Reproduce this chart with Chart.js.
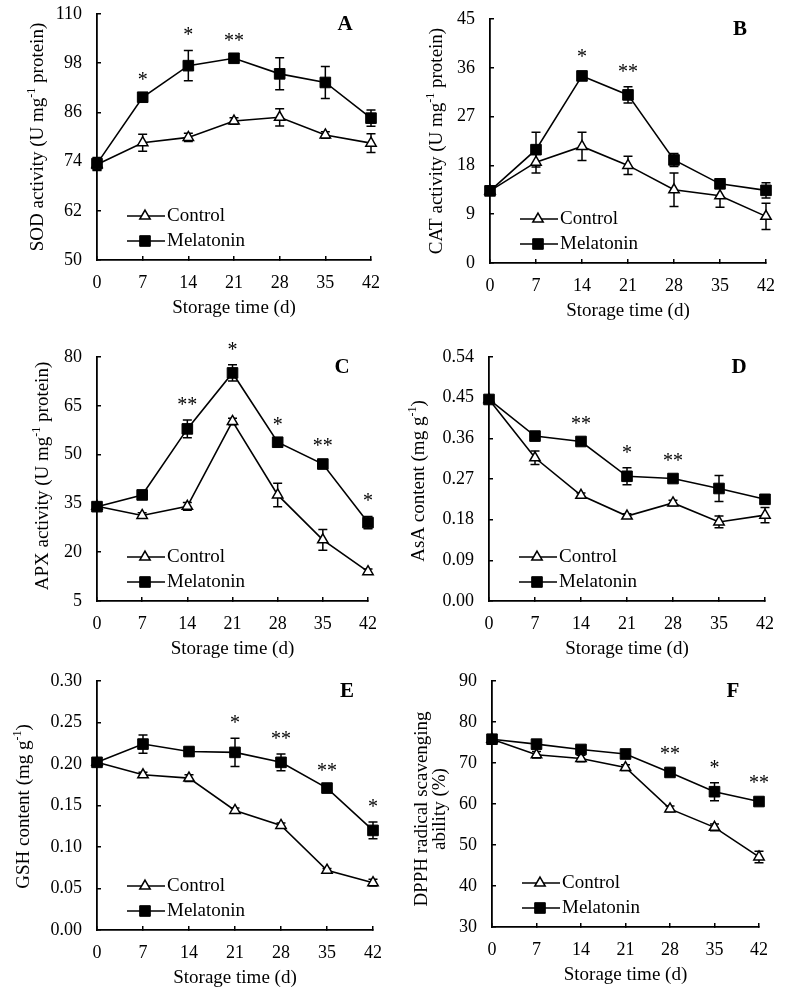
<!DOCTYPE html>
<html>
<head>
<meta charset="utf-8">
<script src="https://cdn.jsdelivr.net/npm/chart.js@4.4.1/dist/chart.umd.min.js"></script>
<style>
html,body{margin:0;padding:0;background:#fff;}
#wrap{position:relative;width:787px;height:990px;overflow:hidden;background:#fff;}
#wrap canvas{position:absolute;}
</style>
</head>
<body>
<div id="wrap"></div>
<script>
// ---------- data ----------
const days = ['0', '7', '14', '21', '28', '35', '42'];
const seriesNames = ['Control', 'Melatonin'];
const xTitle = 'Storage time (d)';

// A: SOD
const sodControl    = [73.3, 78.6, 79.9, 83.9, 84.8, 80.5, 78.5];
const sodControlErr = [1.5, 2.1, 1.0, 0.8, 2.1, 0.8, 2.3];
const sodMel        = [73.5, 89.7, 97.4, 99.2, 95.4, 93.3, 84.6];
const sodMelErr     = [1.5, 0.5, 3.7, 0.5, 3.9, 3.9, 2.0];
const sodSig        = ['', '*', '*', '**', '', '', ''];
const sodTicks      = [50, 62, 74, 86, 98, 110];

// B: CAT
const catControl    = [13.3, 18.6, 21.5, 18.0, 13.5, 12.4, 8.6];
const catControlErr = [0.8, 2.0, 2.6, 1.7, 3.1, 2.1, 2.4];
const catMel        = [13.3, 20.9, 34.5, 31.0, 19.0, 14.6, 13.4];
const catMelErr     = [0.8, 3.2, 0.7, 1.5, 1.2, 0.5, 1.4];
const catSig        = ['', '', '*', '**', '', '', ''];
const catTicks      = [0, 9, 18, 27, 36, 45];

// C: APX
const apxControl    = [34.1, 31.3, 34.1, 60.2, 37.6, 23.8, 14.0];
const apxControlErr = [0.8, 0.8, 1.2, 1.0, 3.6, 3.2, 0.8];
const apxMel        = [34.0, 37.6, 57.9, 75.1, 53.8, 47.1, 29.1];
const apxMelErr     = [0.8, 0.8, 2.7, 2.5, 0.8, 0.8, 1.9];
const apxSig        = ['', '', '**', '*', '*', '**', '*'];
const apxTicks      = [5, 20, 35, 50, 65, 80];

// D: AsA
const asaControl    = [0.446, 0.317, 0.234, 0.188, 0.217, 0.175, 0.190];
const asaControlErr = [0.006, 0.015, 0.005, 0.005, 0.006, 0.013, 0.017];
const asaMel        = [0.446, 0.365, 0.353, 0.276, 0.271, 0.249, 0.225];
const asaMelErr     = [0.006, 0.005, 0.005, 0.019, 0.005, 0.029, 0.010];
const asaSig        = ['', '', '**', '*', '**', '', ''];
const asaTicks      = [0, 0.09, 0.18, 0.27, 0.36, 0.45, 0.54];

// E: GSH
const gshControl    = [0.202, 0.187, 0.183, 0.144, 0.126, 0.072, 0.057];
const gshControlErr = [0.003, 0.003, 0.004, 0.003, 0.003, 0.002, 0.004];
const gshMel        = [0.202, 0.224, 0.215, 0.214, 0.202, 0.171, 0.120];
const gshMelErr     = [0.003, 0.011, 0.005, 0.017, 0.010, 0.003, 0.010];
const gshSig        = ['', '', '', '*', '**', '**', '*'];
const gshTicks      = [0, 0.05, 0.10, 0.15, 0.20, 0.25, 0.30];

// F: DPPH
const dpphControl    = [75.8, 72.0, 71.1, 68.9, 58.8, 54.3, 47.1];
const dpphControlErr = [0.8, 0.8, 0.8, 0.7, 0.7, 0.8, 1.4];
const dpphMel        = [75.8, 74.6, 73.3, 72.2, 67.7, 63.0, 60.6];
const dpphMelErr     = [0.8, 0.6, 0.6, 0.6, 0.8, 2.2, 0.8];
const dpphSig        = ['', '', '', '', '**', '*', '**'];
const dpphTicks      = [30, 40, 50, 60, 70, 80, 90];

// ---------- layout / style ----------
const FONT = "'Liberation Serif', 'Times New Roman', Times, serif";

const panels = [
  {letter: 'A', ctrl: sodControl, ctrlErr: sodControlErr, mel: sodMel, melErr: sodMelErr, sig: sodSig, ticks: sodTicks, dec: 0,
   yTitle: [[['SOD activity (U mg', 0], ['-1', 1], [' protein)', 0]]],
   box: {x: 0, y: 0, w: 390, h: 325}, area: {l: 97, r: 371, t: 14, b: 260}, titleX: 38, titleDY: 0},
  {letter: 'B', ctrl: catControl, ctrlErr: catControlErr, mel: catMel, melErr: catMelErr, sig: catSig, ticks: catTicks, dec: 0,
   yTitle: [[['CAT activity (U mg', 0], ['-1', 1], [' protein)', 0]]],
   box: {x: 390, y: 0, w: 397, h: 325}, area: {l: 100, r: 376, t: 19, b: 263}, titleX: 47, titleDY: 0},
  {letter: 'C', ctrl: apxControl, ctrlErr: apxControlErr, mel: apxMel, melErr: apxMelErr, sig: apxSig, ticks: apxTicks, dec: 0,
   yTitle: [[['APX activity (U mg', 0], ['-1', 1], [' protein)', 0]]],
   box: {x: 0, y: 325, w: 390, h: 345}, area: {l: 97, r: 368, t: 32, b: 276}, titleX: 43, titleDY: -3},
  {letter: 'D', ctrl: asaControl, ctrlErr: asaControlErr, mel: asaMel, melErr: asaMelErr, sig: asaSig, ticks: asaTicks, dec: 2,
   yTitle: [[['AsA content (mg g', 0], ['-1', 1], [')', 0]]],
   box: {x: 390, y: 325, w: 397, h: 345}, area: {l: 99, r: 375, t: 32, b: 276}, titleX: 29, titleDY: 2},
  {letter: 'E', ctrl: gshControl, ctrlErr: gshControlErr, mel: gshMel, melErr: gshMelErr, sig: gshSig, ticks: gshTicks, dec: 2,
   yTitle: [[['GSH content (mg g', 0], ['-1', 1], [')', 0]]],
   box: {x: 0, y: 655, w: 390, h: 335}, area: {l: 97, r: 373, t: 26, b: 275}, titleX: 24, titleDY: 1},
  {letter: 'F', ctrl: dpphControl, ctrlErr: dpphControlErr, mel: dpphMel, melErr: dpphMelErr, sig: dpphSig, ticks: dpphTicks, dec: 0,
   yTitle: [[['DPPH radical scavenging', 0]], [['ability (%)', 0]]],
   box: {x: 390, y: 655, w: 397, h: 335}, area: {l: 102, r: 369, t: 26, b: 272}, titleX: 32, titleDY: 5}
];

function drawRich(ctx, segs, cx, cy, size) {
  const supSize = Math.round(size * 0.63);
  let total = 0;
  const parts = segs.map(([t, sup]) => {
    ctx.font = (sup ? supSize : size) + 'px ' + FONT;
    const w = ctx.measureText(t).width;
    total += w;
    return {t, sup, w};
  });
  let x = cx - total / 2;
  ctx.textAlign = 'left';
  ctx.textBaseline = 'middle';
  parts.forEach(pt => {
    ctx.font = (pt.sup ? supSize : size) + 'px ' + FONT;
    ctx.fillText(pt.t, x, pt.sup ? cy - size * 0.33 : cy);
    x += pt.w;
  });
}

function drawMarker(ctx, style, x, y) {
  ctx.save();
  if (style === 'triangle') {
    ctx.fillStyle = '#fff'; ctx.strokeStyle = '#000'; ctx.lineWidth = 1.5;
    Chart.helpers.drawPoint(ctx, {pointStyle: 'triangle', radius: 6, rotation: 0, borderWidth: 1.5}, x, y);
  } else {
    ctx.fillStyle = '#000'; ctx.strokeStyle = '#000'; ctx.lineWidth = 1;
    Chart.helpers.drawPoint(ctx, {pointStyle: 'rect', radius: 7.5, rotation: 0, borderWidth: 1}, x, y);
  }
  ctx.restore();
}

function makeExtras(p) {
  return {
    id: 'extras' + p.letter,
    beforeDatasetsDraw(chart) {
      const ctx = chart.ctx, xs = chart.scales.x, ys = chart.scales.y;
      ctx.save();
      ctx.strokeStyle = '#000';
      ctx.lineWidth = 1.5;
      [[p.ctrl, p.ctrlErr], [p.mel, p.melErr]].forEach(([vals, errs]) => {
        vals.forEach((v, i) => {
          const x = xs.getPixelForValue(i);
          const yT = ys.getPixelForValue(v + errs[i]);
          const yB = ys.getPixelForValue(v - errs[i]);
          ctx.beginPath();
          ctx.moveTo(x, yT); ctx.lineTo(x, yB);
          ctx.moveTo(x - 4.5, yT); ctx.lineTo(x + 4.5, yT);
          ctx.moveTo(x - 4.5, yB); ctx.lineTo(x + 4.5, yB);
          ctx.stroke();
        });
      });
      ctx.restore();
    },
    afterDatasetsDraw(chart) {
      const ctx = chart.ctx, xs = chart.scales.x, ys = chart.scales.y;
      const a = chart.chartArea;
      ctx.save();
      ctx.fillStyle = '#000';
      // significance marks
      ctx.font = '20px ' + FONT;
      ctx.textAlign = 'center';
      ctx.textBaseline = 'alphabetic';
      p.sig.forEach((s, i) => {
        if (!s) return;
        const top = Math.max(p.ctrl[i] + p.ctrlErr[i], p.mel[i] + p.melErr[i]);
        const x = xs.getPixelForValue(i);
        const y = ys.getPixelForValue(top);
        ctx.fillText(s, x, y - 9);
      });
      // panel letter
      ctx.font = 'bold 21px ' + FONT;
      ctx.textAlign = 'center';
      ctx.textBaseline = 'middle';
      ctx.fillText(p.letter, a.right - 26, a.top + 11);
      // legend
      const rows = [[seriesNames[0], 'triangle', a.bottom - 44], [seriesNames[1], 'rect', a.bottom - 19]];
      rows.forEach(([name, style, y]) => {
        ctx.strokeStyle = '#000';
        ctx.lineWidth = 1.6;
        ctx.beginPath();
        ctx.moveTo(a.left + 30, y); ctx.lineTo(a.left + 68, y);
        ctx.stroke();
        drawMarker(ctx, style, a.left + 48, y);
        ctx.fillStyle = '#000';
        ctx.font = '19px ' + FONT;
        ctx.textAlign = 'left';
        ctx.textBaseline = 'middle';
        ctx.fillText(name, a.left + 70, y);
      });
      // x title
      ctx.font = '19px ' + FONT;
      ctx.textAlign = 'center';
      ctx.textBaseline = 'middle';
      ctx.fillText(xTitle, (a.left + a.right) / 2, a.bottom + 48);
      // y title (rotated, with superscript)
      ctx.save();
      ctx.translate(p.titleX, (a.top + a.bottom) / 2 + p.titleDY);
      ctx.rotate(-Math.PI / 2);
      p.yTitle.forEach((line, li) => drawRich(ctx, line, 0, li * 18, 19));
      ctx.restore();
      ctx.restore();
    }
  };
}

const wrap = document.getElementById('wrap');

function clearPad(s) {
  s.paddingTop = 0; s.paddingBottom = 0; s.paddingLeft = 0; s.paddingRight = 0;
}

panels.forEach(p => {
  const cv = document.createElement('canvas');
  cv.width = p.box.w; cv.height = p.box.h;
  cv.style.left = p.box.x + 'px'; cv.style.top = p.box.y + 'px';
  cv.style.width = p.box.w + 'px'; cv.style.height = p.box.h + 'px';
  wrap.appendChild(cv);
  const axisGrid = {display: true, drawOnChartArea: false, drawTicks: true, tickLength: -4, color: '#000', lineWidth: 1.5};
  const axisBorder = {display: true, color: '#000', width: 1.8};
  new Chart(cv, {
    type: 'line',
    data: {
      labels: days,
      datasets: [
        {label: seriesNames[0], data: p.ctrl, borderColor: '#000', borderWidth: 1.6, tension: 0, fill: false,
         pointStyle: 'triangle', pointRadius: 6, pointHoverRadius: 6, pointBackgroundColor: '#fff', pointBorderColor: '#000', pointBorderWidth: 1.5,
         order: 1, clip: false},
        {label: seriesNames[1], data: p.mel, borderColor: '#000', borderWidth: 1.6, tension: 0, fill: false,
         pointStyle: 'rect', pointRadius: 7.5, pointHoverRadius: 7.5, pointBackgroundColor: '#000', pointBorderColor: '#000', pointBorderWidth: 1,
         order: 0, clip: false}
      ]
    },
    options: {
      responsive: false,
      animation: false,
      devicePixelRatio: 1,
      events: [],
      layout: {padding: {top: p.area.t, right: p.box.w - p.area.r, left: 0, bottom: 0}},
      plugins: {legend: {display: false}, tooltip: {enabled: false}, title: {display: false}},
      scales: {
        x: {
          type: 'category', offset: false,
          grid: axisGrid, border: axisBorder,
          ticks: {color: '#000', font: {family: FONT, size: 18}, padding: 16, maxRotation: 0, autoSkip: false},
          afterFit(s) { s.height = p.box.h - p.area.b; clearPad(s); }
        },
        y: {
          type: 'linear', min: p.ticks[0], max: p.ticks[p.ticks.length - 1],
          afterBuildTicks(s) { s.ticks = p.ticks.map(v => ({value: v})); },
          grid: axisGrid, border: axisBorder,
          ticks: {color: '#000', font: {family: FONT, size: 18}, padding: 19, callback: v => Number(v).toFixed(p.dec)},
          afterFit(s) { s.width = p.area.l; clearPad(s); }
        }
      }
    },
    plugins: [makeExtras(p)]
  });
});
</script>
</body>
</html>
